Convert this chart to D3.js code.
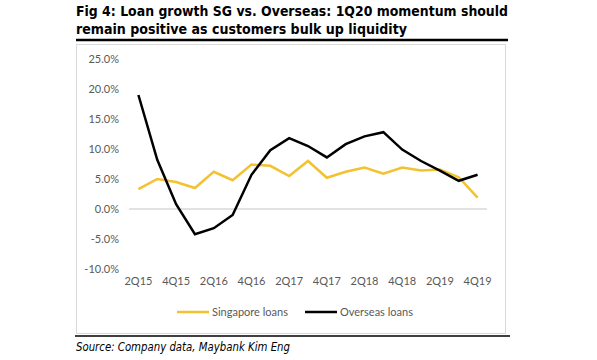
<!DOCTYPE html>
<html><head><meta charset="utf-8">
<script src="https://cdn.jsdelivr.net/npm/d3@7"></script>
<style>
body{margin:0;background:#fff;}
svg{display:block;}
</style></head>
<body>
<svg id="c" width="597" height="360"></svg>
<script>
const quarters = ["2Q15","3Q15","4Q15","1Q16","2Q16","3Q16","4Q16","1Q17","2Q17","3Q17","4Q17","1Q18","2Q18","3Q18","4Q18","1Q19","2Q19","3Q19","4Q19"];
const singapore = [3.3,5.0,4.5,3.5,6.2,4.8,7.4,7.2,5.5,8.0,5.2,6.2,6.9,5.9,6.9,6.4,6.6,5.3,1.9];
const overseas = [19.0,8.2,0.8,-4.2,-3.2,-1.0,5.7,9.8,11.8,10.5,8.6,10.8,12.1,12.8,9.9,8.0,6.4,4.7,5.7];
const yTicks = [-10,-5,0,5,10,15,20,25];
const xLabels = ["2Q15","4Q15","2Q16","4Q16","2Q17","4Q17","2Q18","4Q18","2Q19","4Q19"];
const seriesNames = ["Singapore loans","Overseas loans"];
const colors = ["#F2C230","#000000"];

const svg = d3.select("#c");
const axisFont = "Lato, 'Open Sans', sans-serif";

// Title
const t = svg.append("g").attr("font-family","'DejaVu Sans', Verdana, sans-serif").attr("font-weight","bold").attr("font-size",14.5).attr("fill","#000");
t.append("text").attr("x",76).attr("y",16).attr("textLength",432).attr("lengthAdjust","spacingAndGlyphs").text("Fig 4: Loan growth SG vs. Overseas: 1Q20 momentum should");
t.append("text").attr("x",76).attr("y",34).attr("textLength",331).attr("lengthAdjust","spacingAndGlyphs").text("remain positive as customers bulk up liquidity");
svg.append("line").attr("x1",76).attr("x2",508).attr("y1",40).attr("y2",40).attr("stroke","#000").attr("stroke-width",2.5);

// Frame
svg.append("rect").attr("x",76.5).attr("y",44.5).attr("width",429).attr("height",289).attr("fill","none").attr("stroke","#d9d9d9").attr("stroke-width",1);

// Scales
const x = d3.scaleBand().domain(quarters).range([129,487]);
const y = d3.scaleLinear().domain([-10,25]).range([269,59]);
const cx = d => x(d) + x.bandwidth()/2;

// Y axis labels
const ya = svg.append("g").attr("transform","translate(119,0)")
  .call(d3.axisLeft(y).tickValues(yTicks).tickSize(0).tickPadding(0).tickFormat(d => d.toFixed(1) + "%"));
ya.select(".domain").remove();
ya.selectAll("text").attr("font-family",axisFont).attr("font-size",11).attr("fill","#595959");

// zero line
svg.append("line").attr("x1",129).attr("x2",487).attr("y1",y(0)).attr("y2",y(0)).attr("stroke","#d9d9d9").attr("stroke-width",1.5);

// X axis labels
const xa = svg.append("g").attr("transform","translate(0,277)")
  .call(d3.axisBottom(x).tickValues(xLabels).tickSize(0).tickPadding(0));
xa.select(".domain").remove();
xa.selectAll("text").attr("font-family",axisFont).attr("font-size",11).attr("fill","#595959").attr("dy","0.71em");

// Lines
const line = d3.line().x((d,i) => cx(quarters[i])).y(d => y(d));
[singapore, overseas].forEach((s,i) => {
  svg.append("path").datum(s).attr("d",line).attr("fill","none").attr("stroke",colors[i]).attr("stroke-width",2.5).attr("stroke-linejoin","miter");
});

// Legend
const lg = svg.append("g").attr("font-family",axisFont).attr("font-size",11).attr("fill","#595959");
const legX = [177, 305];
seriesNames.forEach((n,i) => {
  lg.append("line").attr("x1",legX[i]).attr("x2",legX[i]+32).attr("y1",312).attr("y2",312).attr("stroke",colors[i]).attr("stroke-width",2.5);
  lg.append("text").attr("x",legX[i]+35).attr("y",316).text(n);
});

// Source
svg.append("line").attr("x1",75).attr("x2",510).attr("y1",336).attr("y2",336).attr("stroke","#000").attr("stroke-width",1.5);
svg.append("text").attr("x",76).attr("y",351).attr("font-family","'DejaVu Sans', Verdana, sans-serif").attr("font-style","italic").attr("font-size",11.5).attr("textLength",214).attr("lengthAdjust","spacingAndGlyphs").text("Source: Company data, Maybank Kim Eng");
</script>
</body></html>
